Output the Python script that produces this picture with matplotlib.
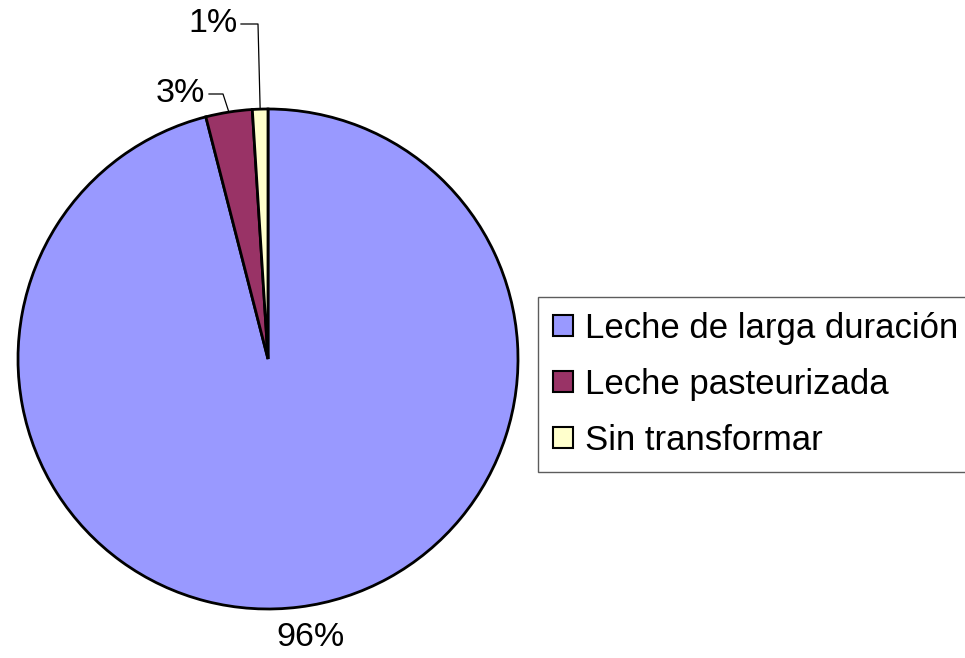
import matplotlib
matplotlib.use("Agg")
import matplotlib.pyplot as plt
import numpy as np
from matplotlib.patches import Patch

categories = ["Leche de larga duración", "Leche pasteurizada", "Sin transformar"]
values = [96, 3, 1]
labels = ["96%", "3%", "1%"]
colors = ["#9999FF", "#993366", "#FFFFCC"]

plt.rcParams['font.family'] = ['Liberation Sans', 'DejaVu Sans']

W, H = 965, 658
fig = plt.figure(figsize=(W / 100, H / 100), dpi=100)
ax = fig.add_axes([0, 0, 1, 1])

cx, cy, R = 268, H - 359, 250
wedges, _ = ax.pie(values, colors=colors, startangle=90, counterclock=False,
                   center=(cx, cy), radius=R,
                   wedgeprops=dict(edgecolor="black", linewidth=2))
ax.set_xlim(0, W)
ax.set_ylim(0, H)
ax.set_aspect("equal")
ax.axis("off")

fs = 24.5
# 96% label below the big slice
ax.text(310, H - 637, labels[0], ha="center", va="center", fontsize=fs)

# 3% label with leader line
w = wedges[1]
mid = np.deg2rad((w.theta1 + w.theta2) / 2)
px, py = cx + R * np.cos(mid), cy + R * np.sin(mid)
ax.plot([px, 223, 209], [py, H - 94, H - 94], color="black", lw=0.9)
ax.text(205, H - 93, labels[1], ha="right", va="center", fontsize=fs)

# 1% label with leader line
w = wedges[2]
mid = np.deg2rad((w.theta1 + w.theta2) / 2)
px, py = cx + R * np.cos(mid), cy + R * np.sin(mid)
ax.plot([px, 258, 241], [py, H - 24, H - 24], color="black", lw=0.9)
ax.text(238, H - 23, labels[2], ha="right", va="center", fontsize=fs)

lfs = 25
handles = [Patch(facecolor=c, edgecolor="black", linewidth=1.5) for c in colors]
leg = fig.legend(handles, categories, loc="upper left",
                 bbox_to_anchor=(538 / W, 1 - 297 / H),
                 fontsize=lfs, frameon=True, fancybox=False,
                 handlelength=0.58, handleheight=0.58, handletextpad=0.35,
                 labelspacing=0.66, borderpad=0.43, borderaxespad=0)
leg.get_frame().set_edgecolor("#333333")
leg.get_frame().set_linewidth(1)

fig.savefig("out.png", dpi=100)
